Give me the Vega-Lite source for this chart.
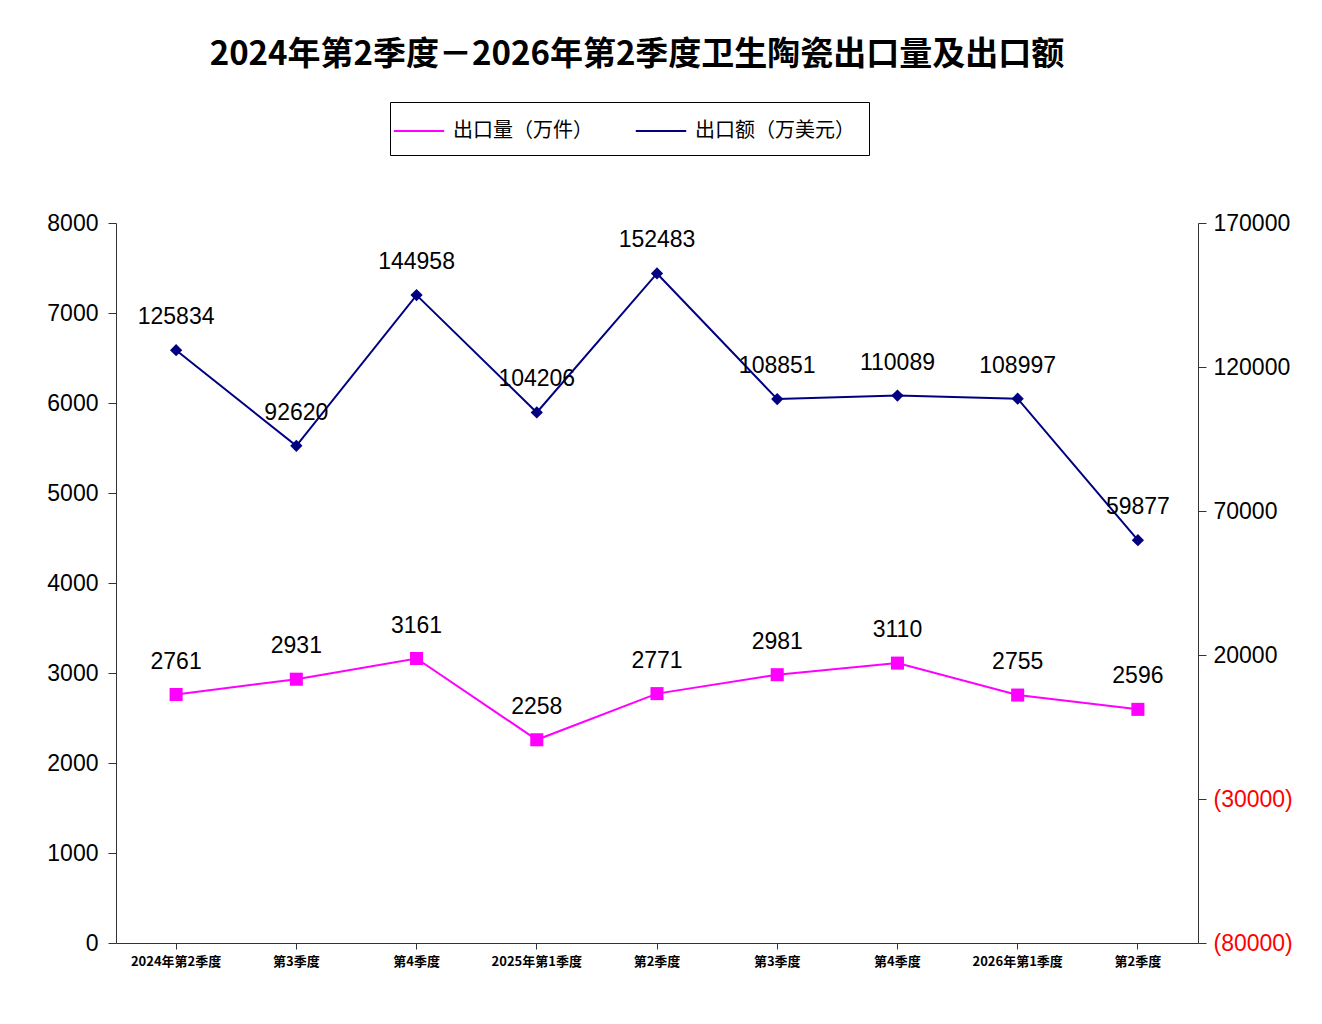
{
  "$schema": "https://vega.github.io/schema/vega-lite/v6.json",
  "autosize": {"type": "none"},
  "width": 1082,
  "height": 720,
  "padding": {"left": 116, "top": 223, "right": 124, "bottom": 81},
  "background": "white",
  "title": {
    "text": "2024年第2季度－2026年第2季度卫生陶瓷出口量及出口额",
    "font": "Noto Sans CJK SC",
    "fontSize": 33,
    "fontWeight": "bold",
    "color": "black",
    "anchor": "middle",
    "dx": -20,
    "offset": 30
  },
  "data": {
    "values": [
      {"quarter": "2024年第2季度", "qty": 2761, "amount": 125834},
      {"quarter": "2024年第3季度", "qty": 2931, "amount": 92620},
      {"quarter": "2024年第4季度", "qty": 3161, "amount": 144958},
      {"quarter": "2025年第1季度", "qty": 2258, "amount": 104206},
      {"quarter": "2025年第2季度", "qty": 2771, "amount": 152483},
      {"quarter": "2025年第3季度", "qty": 2981, "amount": 108851},
      {"quarter": "2025年第4季度", "qty": 3110, "amount": 110089},
      {"quarter": "2026年第1季度", "qty": 2755, "amount": 108997},
      {"quarter": "2026年第2季度", "qty": 2596, "amount": 59877}
    ]
  },
  "layer": [
    {
      "mark": {"type": "line", "strokeWidth": 2},
      "encoding": {
        "x": {
          "field": "quarter",
          "type": "nominal",
          "sort": null,
          "scale": {"type": "band", "paddingInner": 0, "paddingOuter": 0},
          "axis": {
            "title": null,
            "labelAngle": 0,
            "labelFont": "Noto Sans CJK SC",
            "labelFontSize": 13,
            "labelFontWeight": "bold",
            "labelColor": "black",
            "domainColor": "#333333",
            "tickColor": "#333333",
            "tickSize": 6,
            "labelPadding": 6,
            "labelExpr": "datum.value == '2024年第2季度' || indexof(datum.value, '第1季度') >= 0 ? datum.value : substring(datum.value, 5)"
          }
        },
        "y": {
          "field": "qty",
          "type": "quantitative",
          "scale": {"domain": [0, 8000]},
          "axis": {
            "orient": "left",
            "title": null,
            "grid": false,
            "values": [0, 1000, 2000, 3000, 4000, 5000, 6000, 7000, 8000],
            "format": "d",
            "labelFont": "Liberation Sans",
            "labelFontSize": 23,
            "labelColor": "black",
            "labelFlush": false,
            "domainColor": "#333333",
            "tickColor": "#333333",
            "tickSize": 8,
            "labelPadding": 10
          }
        },
        "color": {
          "datum": "出口量（万件）",
          "scale": {
            "domain": ["出口量（万件）", "出口额（万美元）"],
            "range": ["#FF00FF", "#000080"]
          },
          "legend": {
            "title": null,
            "orient": "none",
            "legendX": 274,
            "legendY": -121,
            "direction": "horizontal",
            "labelFont": "Noto Sans CJK SC",
            "labelFontSize": 20,
            "labelColor": "black",
            "labelLimit": 300,
            "labelOffset": 19,
            "columnPadding": 38,
            "padding": 14,
            "symbolType": "M-1.8,0H1.8",
            "symbolSize": 784,
            "symbolStrokeWidth": 2,
            "strokeColor": "black",
            "fillColor": "white"
          }
        }
      }
    },
    {
      "mark": {"type": "point", "shape": "square", "filled": true, "size": 170, "color": "#FF00FF", "opacity": 1},
      "encoding": {
        "x": {"field": "quarter", "type": "nominal", "sort": null},
        "y": {"field": "qty", "type": "quantitative", "scale": {"domain": [0, 8000]}, "axis": null}
      }
    },
    {
      "mark": {"type": "text", "dy": -33, "font": "Liberation Sans", "fontSize": 23, "color": "black"},
      "encoding": {
        "x": {"field": "quarter", "type": "nominal", "sort": null},
        "y": {"field": "qty", "type": "quantitative", "scale": {"domain": [0, 8000]}, "axis": null},
        "text": {"field": "qty", "type": "quantitative", "format": "d"}
      }
    },
    {
      "mark": {"type": "line", "strokeWidth": 2},
      "encoding": {
        "x": {"field": "quarter", "type": "nominal", "sort": null},
        "y": {
          "field": "amount",
          "type": "quantitative",
          "scale": {"domain": [-80000, 170000]},
          "axis": {
            "orient": "right",
            "title": null,
            "grid": false,
            "values": [-80000, -30000, 20000, 70000, 120000, 170000],
            "labelExpr": "datum.value < 0 ? '(' + format(-datum.value, 'd') + ')' : format(datum.value, 'd')",
            "labelFont": "Liberation Sans",
            "labelFontSize": 23,
            "labelColor": {"condition": {"test": "datum.value < 0", "value": "#FF0000"}, "value": "black"},
            "labelFlush": false,
            "domainColor": "#333333",
            "tickColor": "#333333",
            "tickSize": 8,
            "labelPadding": 7
          }
        },
        "color": {"datum": "出口额（万美元）"}
      }
    },
    {
      "mark": {"type": "point", "shape": "diamond", "filled": true, "size": 150, "color": "#000080", "opacity": 1},
      "encoding": {
        "x": {"field": "quarter", "type": "nominal", "sort": null},
        "y": {"field": "amount", "type": "quantitative", "scale": {"domain": [-80000, 170000]}, "axis": null}
      }
    },
    {
      "mark": {"type": "text", "dy": -33, "font": "Liberation Sans", "fontSize": 23, "color": "black"},
      "encoding": {
        "x": {"field": "quarter", "type": "nominal", "sort": null},
        "y": {"field": "amount", "type": "quantitative", "scale": {"domain": [-80000, 170000]}, "axis": null},
        "text": {"field": "amount", "type": "quantitative", "format": "d"}
      }
    }
  ],
  "resolve": {"scale": {"y": "independent"}},
  "config": {"view": {"stroke": null}}
}
